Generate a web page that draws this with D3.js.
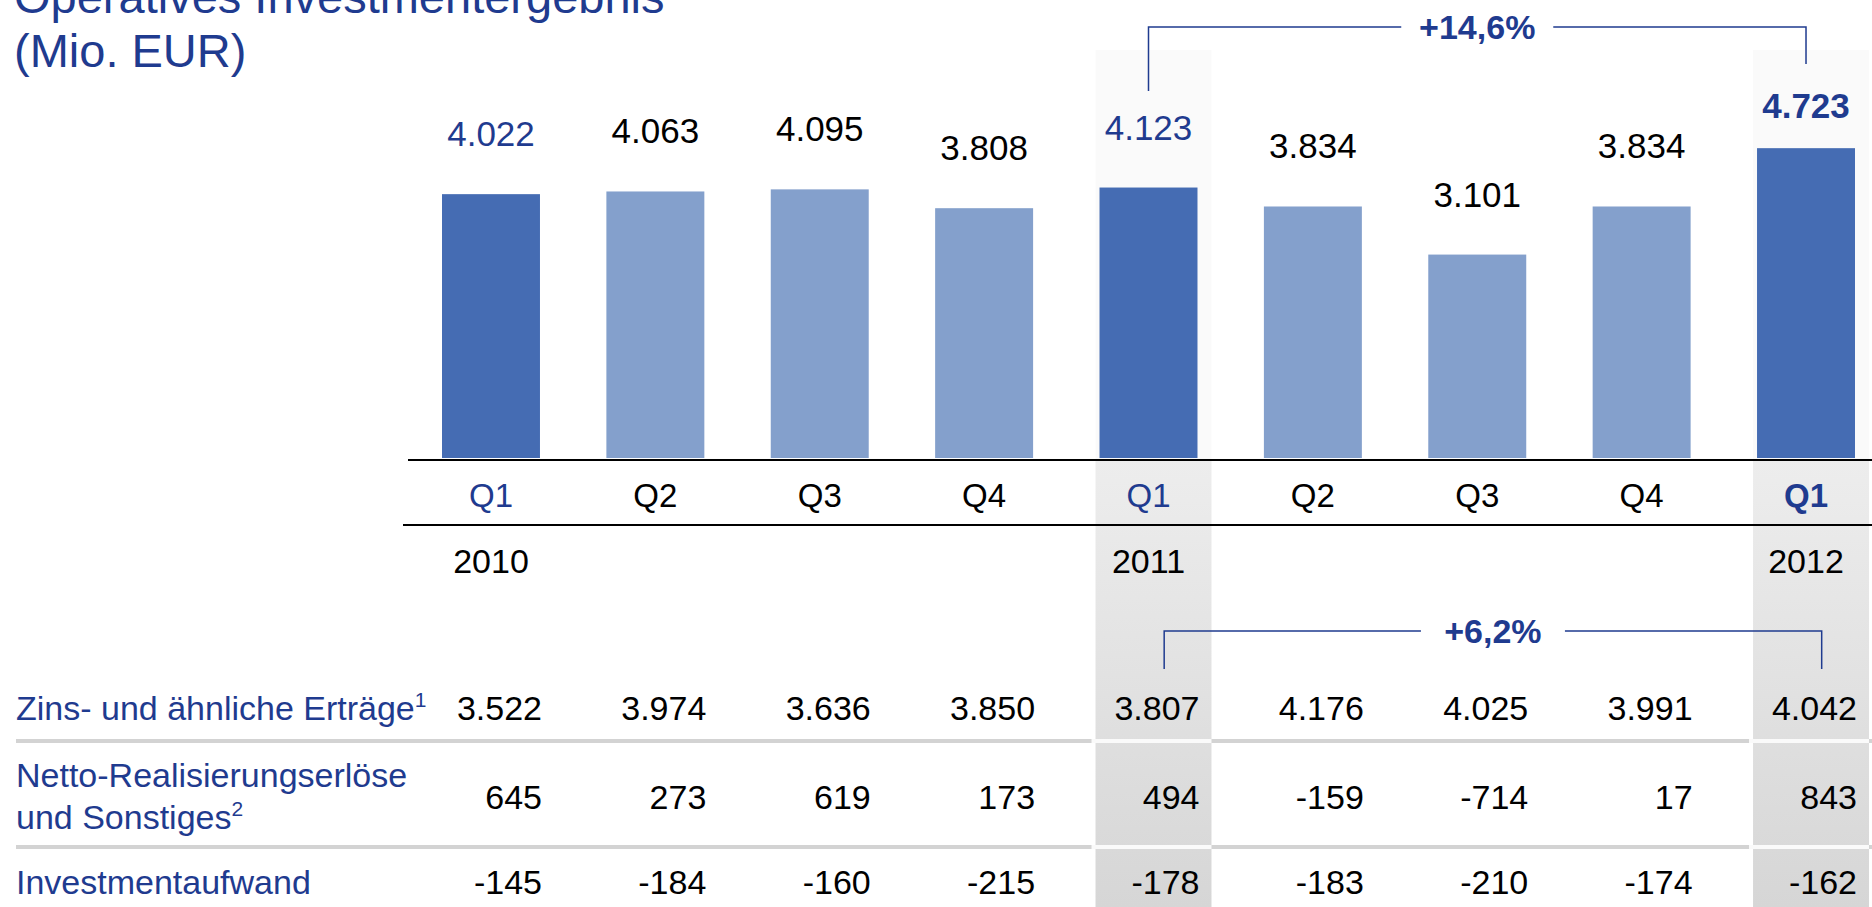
<!DOCTYPE html>
<html>
<head>
<meta charset="utf-8">
<script src="https://cdn.jsdelivr.net/npm/d3@7"></script>
<style>
    body { margin: 0; background: #fff; overflow: hidden; }
    text { font-family: "Liberation Sans", Arial, sans-serif; }
</style>
</head>
<body>
<svg id="canvas" width="1872" height="907"></svg>
<script>
let quarters = ['Q1', 'Q2', 'Q3', 'Q4', 'Q1', 'Q2', 'Q3', 'Q4', 'Q1'];
let years = ['2010', '', '', '', '2011', '', '', '', '2012'];
let operating = [4022, 4063, 4095, 3808, 4123, 3834, 3101, 3834, 4723];
let interest = [3522, 3974, 3636, 3850, 3807, 4176, 4025, 3991, 4042];
let netRealized = [645, 273, 619, 173, 494, -159, -714, 17, 843];
let investExpense = [-145, -184, -160, -215, -178, -183, -210, -174, -162];
let rowLabels = [['Zins- und ähnliche Erträge', '1'], ['Netto-Realisierungserlöse', ''], ['und Sonstiges', '2'], ['Investmentaufwand', '']];
let firstQuarters = [0, 4, 8];
let shaded = [4, 8];
let topChange = { from: 4, to: 8, label: '+14,6%' };
let bottomChange = { from: 4, to: 8, label: '+6,2%' };

let blue = '#1f3b8f';
let dark = '#456cb3';
let light = '#84a0cc';

let canvas = d3.select('#canvas');
let fmt = d3.formatLocale({ decimal: ',', thousands: '.', grouping: [3], currency: ['', ' €'], minus: '-' }).format(',d');

let idx = quarters.map((q, i) => i);
let x = d3.scaleBand().domain(idx).range([442, 1855]).paddingInner(0.404);
let y = d3.scaleLinear().domain([0, 5000]).range([458, 130]);
let bw = x.bandwidth();

// shaded columns
let defs = canvas.append('defs');
let grad = defs.append('linearGradient')
    .attr('id', 'colGrad')
    .attr('x1', 0).attr('y1', 0).attr('x2', 0).attr('y2', 1);
grad.append('stop').attr('offset', '0%').attr('stop-color', '#ededed');
grad.append('stop').attr('offset', '100%').attr('stop-color', '#d6d6d6');

canvas.selectAll('.faint')
    .data(shaded)
    .enter()
    .append('rect')
    .attr('x', (i) => x(i) - 4)
    .attr('y', 50)
    .attr('width', bw + 18)
    .attr('height', 410)
    .attr('fill', '#fafafa');

canvas.selectAll('.column')
    .data(shaded)
    .enter()
    .append('rect')
    .attr('x', (i) => x(i) - 4)
    .attr('y', 461)
    .attr('width', bw + 18)
    .attr('height', 446)
    .attr('fill', 'url(#colGrad)');

// title
canvas.append('text')
    .attr('x', 14)
    .attr('y', 13)
    .attr('font-size', 47)
    .attr('fill', blue)
    .text('Operatives Investmentergebnis');
canvas.append('text')
    .attr('x', 14)
    .attr('y', 67)
    .attr('font-size', 47)
    .attr('fill', blue)
    .text('(Mio. EUR)');

// bars
canvas.selectAll('.bar')
    .data(operating)
    .enter()
    .append('rect')
    .attr('x', (d, i) => x(i))
    .attr('y', (d) => y(d))
    .attr('width', bw)
    .attr('height', (d) => y(0) - y(d))
    .attr('fill', (d, i) => firstQuarters.includes(i) ? dark : light);

canvas.selectAll('.barLabel')
    .data(operating)
    .enter()
    .append('text')
    .attr('x', (d, i) => x(i) + bw / 2)
    .attr('y', (d, i) => i === 8 ? y(d) - 30 : y(d) - 48)
    .attr('text-anchor', 'middle')
    .attr('font-size', 35)
    .attr('font-weight', (d, i) => i === 8 ? 'bold' : 'normal')
    .attr('fill', (d, i) => firstQuarters.includes(i) ? blue : '#000')
    .text((d) => fmt(d));

// axis lines
canvas.append('line')
    .attr('x1', 408).attr('x2', 1872)
    .attr('y1', 460).attr('y2', 460)
    .attr('stroke', '#000').attr('stroke-width', 2);
canvas.append('line')
    .attr('x1', 403).attr('x2', 1872)
    .attr('y1', 525).attr('y2', 525)
    .attr('stroke', '#000').attr('stroke-width', 2);

canvas.selectAll('.quarter')
    .data(quarters)
    .enter()
    .append('text')
    .attr('x', (d, i) => x(i) + bw / 2)
    .attr('y', 507)
    .attr('text-anchor', 'middle')
    .attr('font-size', 33)
    .attr('font-weight', (d, i) => i === 8 ? 'bold' : 'normal')
    .attr('fill', (d, i) => firstQuarters.includes(i) ? blue : '#000')
    .text((d) => d);

canvas.selectAll('.year')
    .data(years)
    .enter()
    .append('text')
    .attr('x', (d, i) => x(i) + bw / 2)
    .attr('y', 573)
    .attr('text-anchor', 'middle')
    .attr('font-size', 34)
    .attr('fill', '#000')
    .text((d) => d);

// change brackets
let drawBracket = (change, xOff, yLine, yLeft, yRight, gap) => {
    let xa = x(change.from) + xOff;
    let xb = x(change.to) + xOff;
    let mid = (xa + xb) / 2;
    let g = canvas.append('g')
        .attr('fill', 'none')
        .attr('stroke', blue)
        .attr('stroke-width', 1.5);
    g.append('path').attr('d', `M${xa},${yLeft}V${yLine}H${mid - gap}`);
    g.append('path').attr('d', `M${mid + gap},${yLine}H${xb}V${yRight}`);
    canvas.append('text')
        .attr('x', mid)
        .attr('y', yLine + 12)
        .attr('text-anchor', 'middle')
        .attr('font-size', 34)
        .attr('font-weight', 'bold')
        .attr('fill', blue)
        .text(change.label);
}
drawBracket(topChange, bw / 2, 27, 91, 64, 76);
drawBracket(bottomChange, bw * 0.66, 631, 669, 669, 72);

// table separators
let separators = [741, 847];
separators.forEach((sy) => {
    canvas.append('line')
        .attr('x1', 16).attr('x2', 1872)
        .attr('y1', sy).attr('y2', sy)
        .attr('stroke', '#d3d3d3').attr('stroke-width', 4);
    canvas.selectAll(null)
        .data(shaded)
        .enter()
        .append('line')
        .attr('x1', (i) => x(i) - 8)
        .attr('x2', (i) => x(i) + bw + 14)
        .attr('y1', sy).attr('y2', sy)
        .attr('stroke', '#fafafa').attr('stroke-width', 4);
});

// row labels
let labelY = [720, 787, 829, 894];
rowLabels.forEach((lab, k) => {
    let t = canvas.append('text')
        .attr('x', 16)
        .attr('y', labelY[k])
        .attr('font-size', 34)
        .attr('fill', blue)
        .text(lab[0]);
    if (lab[1]) {
        t.append('tspan')
            .attr('dy', -13)
            .attr('font-size', 21)
            .text(lab[1]);
    }
});

// row values
let rows = [interest, netRealized, investExpense];
let rowY = [720, 809, 894];
rows.forEach((row, k) => {
    canvas.selectAll(null)
        .data(row)
        .enter()
        .append('text')
        .attr('x', (d, i) => x(i) + bw + 2)
        .attr('y', rowY[k])
        .attr('text-anchor', 'end')
        .attr('font-size', 34)
        .attr('fill', '#000')
        .text((d) => fmt(d));
});
</script>
</body>
</html>
